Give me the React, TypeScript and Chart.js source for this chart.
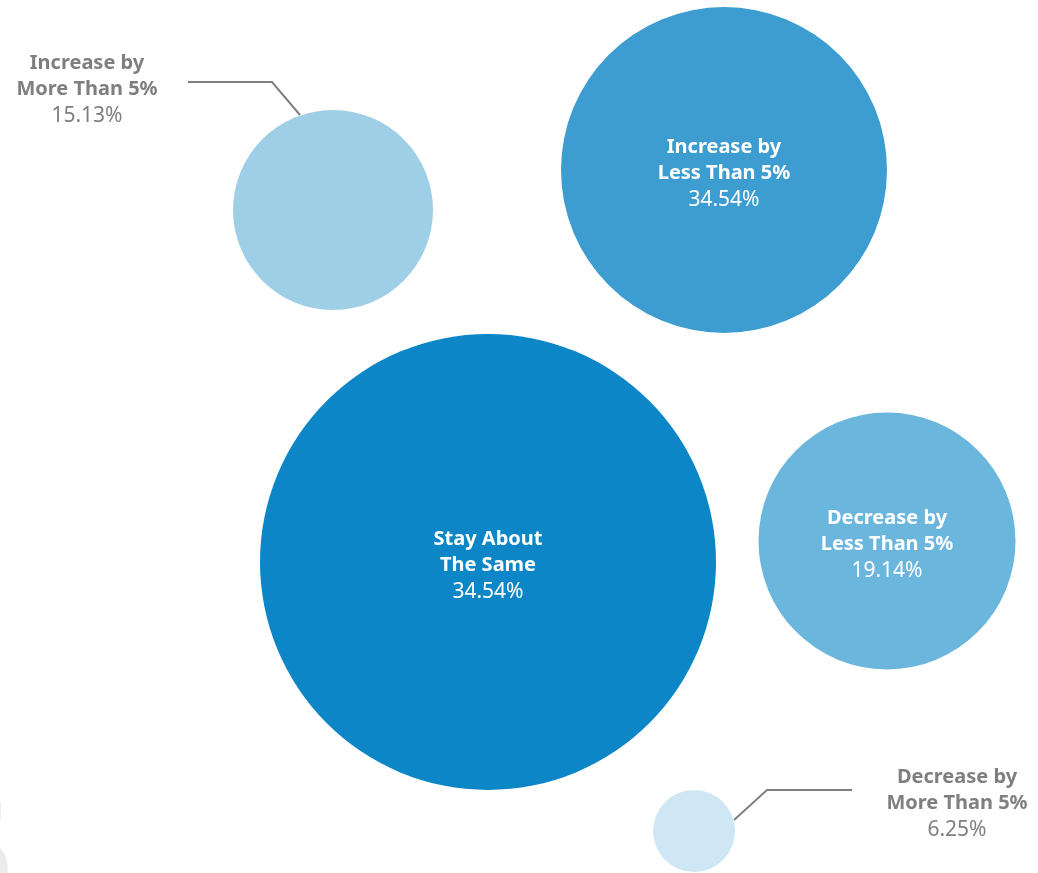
import React, { useEffect, useRef } from "react";
import { Chart, registerables, BubbleController } from "chart.js";

Chart.register(...registerables);

class FullBubbleController extends BubbleController {
  static id = "fullBubble";
  getMaxOverflow() {
    return 0 as any;
  }
}
Chart.register(FullBubbleController);

const categories = [
  ["Increase by", "More Than 5%"],
  ["Increase by", "Less Than 5%"],
  ["Stay About", "The Same"],
  ["Decrease by", "Less Than 5%"],
  ["Decrease by", "More Than 5%"],
];
const percentLabels = ["15.13%", "34.54%", "34.54%", "19.14%", "6.25%"];
const bubbleX = [333, 724, 488, 887, 694];
const bubbleY = [210, 170, 562, 541, 831];
const bubbleR = [100, 163, 228, 128.5, 41];
const colors = ["#9fcfe7", "#3d9dd0", "#0c86c6", "#6bb6dd", "#cfe7f4"];

const FONT = "'Noto Sans', 'Open Sans', sans-serif";
const GREY = "#7f7f80";

const labelPlugin = {
  id: "bubbleLabels",
  afterDatasetsDraw(chart: any) {
    const ctx = chart.ctx;
    const meta = chart.getDatasetMeta(0);
    ctx.save();
    // decorative big glyph at bottom-left
    ctx.fillStyle = "#ebebeb";
    ctx.font = `bold 140px ${FONT}`;
    ctx.textAlign = "right";
    ctx.textBaseline = "alphabetic";
    ctx.fillText("5", 14, 903);

    ctx.textAlign = "center";
    ctx.textBaseline = "middle";
    meta.data.forEach((el: any, i: number) => {
      const { x, y } = el.getProps(["x", "y"], true);
      const r = bubbleR[i];
      const inside = r > 110;
      let lx = x, ly = y + 3;
      if (!inside) {
        ctx.strokeStyle = "#808080";
        ctx.lineWidth = 2;
        ctx.beginPath();
        if (i === 0) {
          ctx.moveTo(x - 33, y - 95);
          ctx.lineTo(272, 82);
          ctx.lineTo(188, 82);
          lx = 87; ly = 89;
        } else {
          ctx.moveTo(x + 40, y - 11);
          ctx.lineTo(767, 790);
          ctx.lineTo(852, 790);
          lx = 957; ly = 803;
        }
        ctx.stroke();
      }
      const col = inside ? "#ffffff" : GREY;
      ctx.fillStyle = col;
      ctx.font = `bold 20px ${FONT}`;
      ctx.fillText(categories[i][0], lx, ly - 26);
      ctx.fillText(categories[i][1], lx, ly);
      ctx.font = `21px ${FONT}`;
      ctx.fillText(percentLabels[i], lx, ly + 27);
    });
    ctx.restore();
  },
};

export default function App() {
  const ref = useRef<HTMLCanvasElement>(null);
  useEffect(() => {
    document.body.style.margin = "0";
    const chart = new Chart(ref.current!, {
      type: "fullBubble" as any,
      data: {
        datasets: [
          {
            data: bubbleX.map((x, i) => ({ x, y: bubbleY[i], r: bubbleR[i] })),
            backgroundColor: colors,
            borderWidth: 0,
            hoverBorderWidth: 0,
            hoverRadius: 0,
            clip: false,
          } as any,
        ],
      },
      options: {
        responsive: false,
        animation: false,
        layout: { padding: 0 },
        plugins: { legend: { display: false }, tooltip: { enabled: false } },
        scales: {
          x: { type: "linear", min: 0, max: 1038, display: false },
          y: { type: "linear", min: 0, max: 873, reverse: true, display: false },
        },
      } as any,
      plugins: [labelPlugin],
    });
    return () => chart.destroy();
  }, []);
  return (
    <div style={{ position: "absolute", left: 0, top: 0, width: 1038, height: 873 }}>
      <canvas ref={ref} width={1038} height={873} />
    </div>
  );
}
